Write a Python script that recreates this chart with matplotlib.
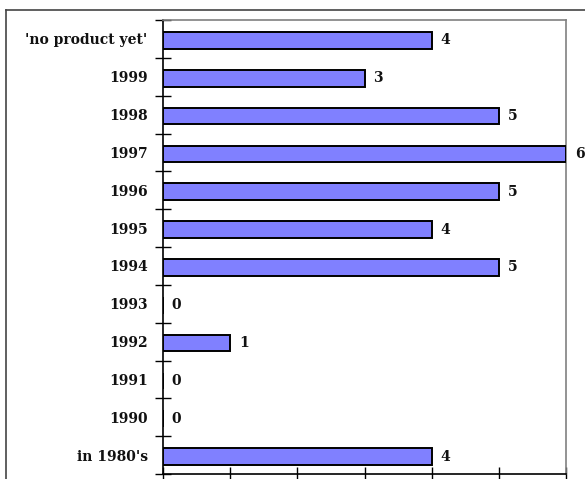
import matplotlib
matplotlib.use("Agg")
import matplotlib.pyplot as plt
from matplotlib.lines import Line2D
import numpy as np

# Launch year of the first product, counted per company
categories = ["in 1980's", "1990", "1991", "1992", "1993", "1994",
              "1995", "1996", "1997", "1998", "1999", "'no product yet'"]
counts = [4, 0, 0, 1, 0, 5, 4, 5, 6, 5, 3, 4]
x_ticks = [0, 1, 2, 3, 4, 5, 6]

font = {"family": ["DejaVu Serif"], "weight": "bold", "size": 10}

fig = plt.figure(figsize=(5.85, 4.79), dpi=100)
W, H = 585, 479
ax = fig.add_axes([163 / W, 1 - 474 / H, (566 - 163) / W, (474 - 20) / H])

y = np.arange(len(categories))
ax.barh(y - 0.04, counts, height=0.44, color="#8080FF", edgecolor="black",
        linewidth=1.4, zorder=3)

for yi, v in zip(y, counts):
    ax.text(v + 0.13, yi - 0.04, str(v), ha="left", va="center", color="#111111",
            clip_on=False, **font)

ax.set_xlim(0, 6)
ax.set_ylim(-0.5, len(categories) - 0.5)
ax.set_xticks(x_ticks)
ax.set_xticklabels([])
ax.tick_params(axis="x", direction="inout", length=10, width=1, color="black")

ax.set_yticks(y)
ax.set_yticklabels(categories, fontdict=font, color="#111111")
ax.tick_params(axis="y", which="major", length=0, pad=11)
ax.set_yticks(np.arange(len(categories) + 1) - 0.5, minor=True)
ax.tick_params(axis="y", which="minor", direction="inout", length=12, width=1,
               color="black")

for side in ("left", "bottom"):
    ax.spines[side].set_color("black")
    ax.spines[side].set_linewidth(1.2)
for side in ("top", "right"):
    ax.spines[side].set_color("#808080")
    ax.spines[side].set_linewidth(1.2)

# Outer chart frame
fig.add_artist(Line2D([6 / W, 1], [1 - 10 / H, 1 - 10 / H], color="#444444", lw=1.2))
fig.add_artist(Line2D([6 / W, 6 / W], [1 - 10 / H, 0], color="#444444", lw=1.2))

fig.savefig("out.png", dpi=100)
